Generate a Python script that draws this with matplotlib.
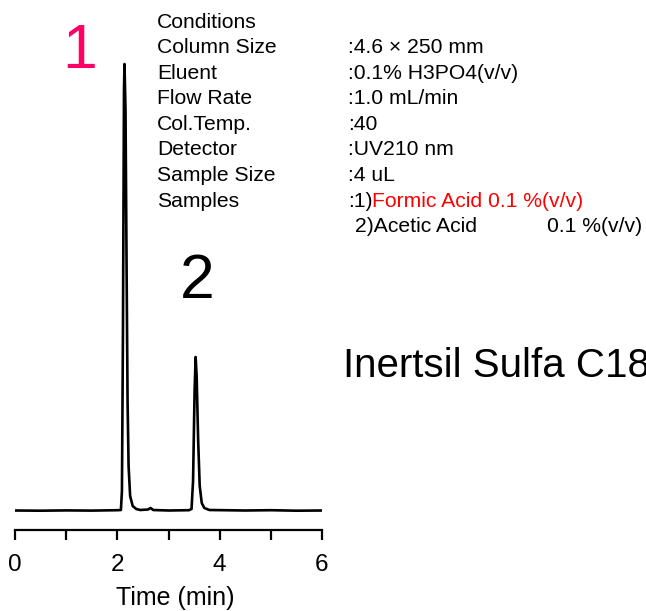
import matplotlib
matplotlib.use('Agg')
import matplotlib.pyplot as plt

plt.rcParams['font.family'] = ['Liberation Sans', 'DejaVu Sans']

# chromatogram trace (time in min, signal in arbitrary units)
time = [0.0, 0.5, 1.0, 1.5, 2.0, 2.07, 2.09, 2.11, 2.13, 2.14, 2.16, 2.18, 2.20,
        2.22, 2.25, 2.30, 2.37, 2.45, 2.60, 2.65, 2.70, 3.00, 3.40, 3.45, 3.48,
        3.51, 3.53, 3.55, 3.58, 3.61, 3.65, 3.70, 3.80, 4.50, 5.00, 5.50, 6.00]
signal = [0.5, 0.3, 0.6, 0.4, 0.8, 1, 20, 180, 420, 447, 400, 250, 110,
          45, 15, 5, 2, 1, 1.5, 3, 1, 0.5, 0.8, 2, 30,
          120, 154, 135, 70, 25, 8, 3, 1, 0.5, 0.8, 0.3, 0.5]

cond_labels = ['Column Size', 'Eluent', 'Flow Rate', 'Col.Temp.', 'Detector',
               'Sample Size', 'Samples']
cond_values = [':4.6 \u00d7 250 mm', ':0.1% H3PO4(v/v)', ':1.0 mL/min', ':40',
               ':UV210 nm', ':4 uL']

W, H = 646, 611
fig = plt.figure(figsize=(W / 100, H / 100), dpi=100)
ax = fig.add_axes([15 / W, 1 - 530 / H, 307 / W, 490 / H])
ax.plot(time, signal, color='black', lw=1.9)
ax.set_xlim(0, 6)
ax.set_ylim(-19, 471)

for s in ['top', 'right', 'left']:
    ax.spines[s].set_visible(False)
ax.spines['bottom'].set_linewidth(1.6)
ax.set_yticks([])
ax.set_xticks([0, 2, 4, 6])
ax.set_xticks([1, 3, 5], minor=True)
ax.tick_params(axis='x', which='both', direction='out', length=7, width=1.6)
ax.tick_params(axis='x', which='major', labelsize=17.5, pad=10)
ax.patch.set_visible(False)


def px(x, y):
    return x / W, 1 - y / H


fig.text(*px(175, 598), 'Time (min)', fontsize=18, ha='center', va='center')

# conditions block
fs = 15.2
fig.text(*px(157, 22), 'Conditions', fontsize=fs, va='center')
for i, lab in enumerate(cond_labels):
    y = 47.5 + i * 25.6
    fig.text(*px(157, y), lab, fontsize=fs, va='center')
for i, val in enumerate(cond_values):
    y = 47.5 + i * 25.6
    fig.text(*px(348, y), val, fontsize=fs, va='center')

y_s = 47.5 + 6 * 25.6
fig.text(*px(348, y_s), ':1)', fontsize=fs, va='center')
fig.text(*px(372, y_s), 'Formic Acid 0.1 %(v/v)', fontsize=fs, va='center', color='#ff0000')
fig.text(*px(355, y_s + 25.6), '2)Acetic Acid', fontsize=fs, va='center')
fig.text(*px(547, y_s + 25.6), '0.1 %(v/v)', fontsize=fs, va='center')

# peak numbers and column name
fig.text(*px(80, 52), '1', fontsize=45, color='#ff0066', ha='center', va='center')
fig.text(*px(197, 282), '2', fontsize=45, color='black', ha='center', va='center')
fig.text(*px(343, 366), 'Inertsil Sulfa C18', fontsize=29, va='center')

fig.savefig('out.png', dpi=100)
